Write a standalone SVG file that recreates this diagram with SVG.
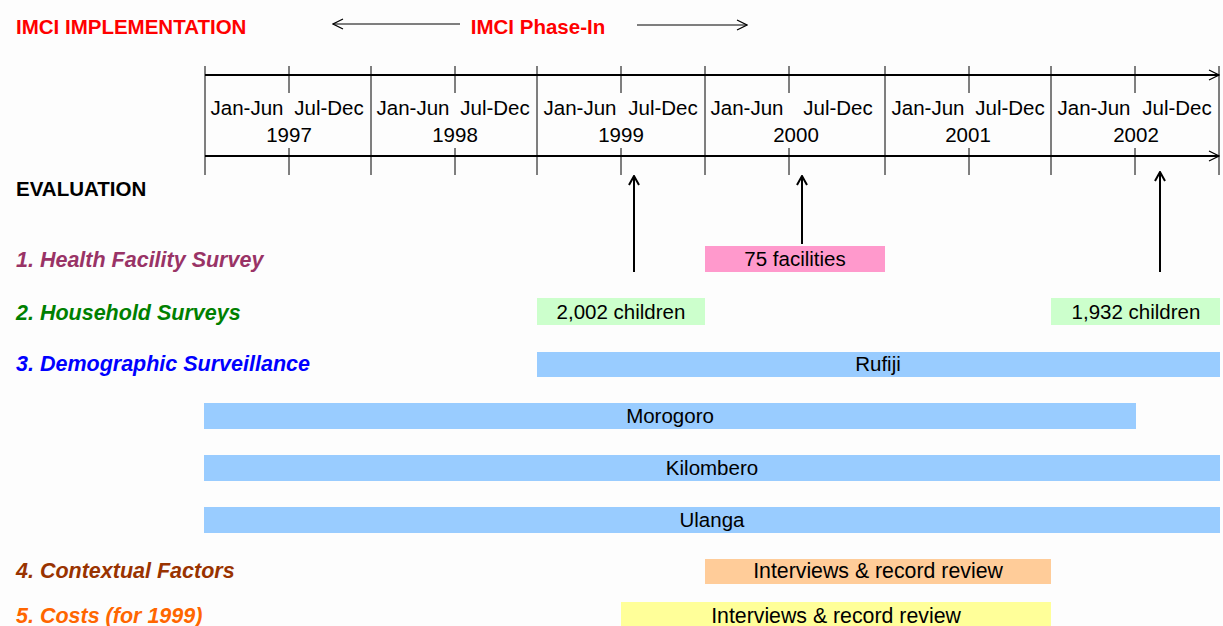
<svg xmlns="http://www.w3.org/2000/svg" width="1223" height="626" viewBox="0 0 1223 626">
<defs>
<style>
text{font-family:"Liberation Sans",Arial,sans-serif;font-size:20.5px;fill:#000}
.h{font-weight:bold;fill:#FF0000}
.lbl{font-weight:bold;font-style:italic;font-size:21.5px}
.t{text-anchor:middle}
.iv{font-size:21.3px}
.ax{stroke:#000;stroke-width:2;fill:none}
.tk{stroke:#000;stroke-width:1;fill:none}
.ar{stroke:#000;stroke-width:2;fill:none}
.thin{stroke:#000;stroke-width:1;fill:none}
</style>
<marker id="open" viewBox="0 0 12 12" refX="11" refY="6" markerWidth="12" markerHeight="12" markerUnits="userSpaceOnUse" orient="auto">
<path d="M1,1 L11,6 L1,11" fill="none" stroke="#000" stroke-width="1.2"/>
</marker>
<marker id="up" viewBox="0 0 12 12" refX="11" refY="6" markerWidth="12" markerHeight="12" markerUnits="userSpaceOnUse" orient="auto">
<path d="M2,1 L11,6 L2,11" fill="none" stroke="#000" stroke-width="2"/>
</marker>
</defs>
<rect width="1223" height="626" fill="#FDFDFD"/>
<g id="header">
<text class="h" x="16" y="34">IMCI IMPLEMENTATION</text>
<text class="h t" x="538" y="34">IMCI Phase-In</text>
</g>
<g id="timeline">
<line class="ax" x1="205" y1="75" x2="1219" y2="75" marker-end="url(#open)"/>
<line class="ax" x1="205" y1="156" x2="1219" y2="156" marker-end="url(#open)"/>
<g class="tk">
<line x1="205" y1="66" x2="205" y2="175"/>
<line x1="371" y1="66" x2="371" y2="175"/>
<line x1="537" y1="66" x2="537" y2="175"/>
<line x1="705" y1="66" x2="705" y2="175"/>
<line x1="885" y1="66" x2="885" y2="175"/>
<line x1="1051" y1="66" x2="1051" y2="175"/>
<line x1="1219" y1="66" x2="1219" y2="175"/>
<path d="M289,66V93M289,148V175M455,66V93M455,148V175M621,66V93M621,148V175M789,66V93M789,148V175M969,66V93M969,148V175M1135,66V93M1135,148V175"/>
</g>
<g class="t">
<text x="247" y="115">Jan-Jun</text><text x="329" y="115">Jul-Dec</text><text x="289" y="142">1997</text>
<text x="413" y="115">Jan-Jun</text><text x="495" y="115">Jul-Dec</text><text x="455" y="142">1998</text>
<text x="580" y="115">Jan-Jun</text><text x="663" y="115">Jul-Dec</text><text x="621" y="142">1999</text>
<text x="747" y="115">Jan-Jun</text><text x="838" y="115">Jul-Dec</text><text x="796" y="142">2000</text>
<text x="928" y="115">Jan-Jun</text><text x="1010" y="115">Jul-Dec</text><text x="968" y="142">2001</text>
<text x="1094" y="115">Jan-Jun</text><text x="1177" y="115">Jul-Dec</text><text x="1136" y="142">2002</text>
</g>
</g>
<g id="labels">
<text x="16" y="196" style="font-weight:bold">EVALUATION</text>
<text class="lbl" x="16" y="267" style="fill:#993366">1. Health Facility Survey</text>
<text class="lbl" x="16" y="320" style="fill:#008000">2. Household Surveys</text>
<text class="lbl" x="16" y="371" style="fill:#0000FF">3. Demographic Surveillance</text>
<text class="lbl" x="16" y="578" style="fill:#993300">4. Contextual Factors</text>
<text class="lbl" x="16" y="623" style="fill:#FF6600">5. Costs (for 1999)</text>
</g>
<g id="connectors">
<line class="thin" x1="460" y1="24" x2="333" y2="24" marker-end="url(#open)"/>
<line class="thin" x1="637" y1="25" x2="747" y2="25" marker-end="url(#open)"/>
<line class="ar" x1="634" y1="272" x2="634" y2="176" marker-end="url(#up)"/>
<line class="ar" x1="802" y1="244" x2="802" y2="176" marker-end="url(#up)"/>
<line class="ar" x1="1160" y1="272" x2="1160" y2="172" marker-end="url(#up)"/>
</g>
<g id="hfs"><rect x="705" y="246" width="180" height="26" fill="#FF99CC"/><text class="t" x="795" y="266">75 facilities</text></g>
<g id="hh1"><rect x="537" y="298" width="168" height="27" fill="#CCFFCC"/><text class="t" x="621" y="319">2,002 children</text></g>
<g id="hh2"><rect x="1051" y="298" width="169" height="27" fill="#CCFFCC"/><text class="t" x="1136" y="319">1,932 children</text></g>
<g id="rufiji"><rect x="537" y="352" width="683" height="25" fill="#99CCFF"/><text class="t" x="878" y="371">Rufiji</text></g>
<g id="morogoro"><rect x="204" y="403" width="932" height="26" fill="#99CCFF"/><text class="t" x="670" y="423">Morogoro</text></g>
<g id="kilombero"><rect x="204" y="455" width="1016" height="26" fill="#99CCFF"/><text class="t" x="712" y="475">Kilombero</text></g>
<g id="ulanga"><rect x="204" y="507" width="1016" height="26" fill="#99CCFF"/><text class="t" x="712" y="527">Ulanga</text></g>
<g id="context"><rect x="705" y="559" width="346" height="25" fill="#FFCC99"/><text class="t iv" x="878" y="578">Interviews &amp; record review</text></g>
<g id="costs"><rect x="621" y="602" width="430" height="24" fill="#FFFF99"/><text class="t iv" x="836" y="623">Interviews &amp; record review</text></g>
</svg>
